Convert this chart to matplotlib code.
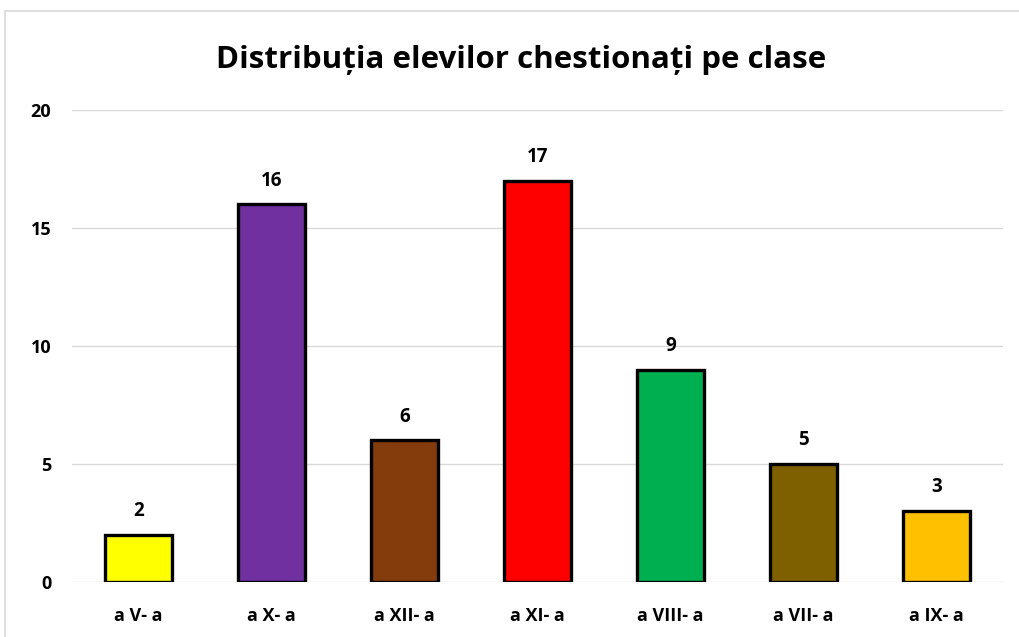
import matplotlib.pyplot as plt
from matplotlib.patches import Rectangle

categories = ["a V- a", "a X- a", "a XII- a", "a XI- a", "a VIII- a", "a VII- a", "a IX- a"]
values = [2, 16, 6, 17, 9, 5, 3]
colors = ["#FFFF00", "#7030A0", "#843C0C", "#FF0000", "#00B050", "#7F6000", "#FFC000"]
yticks = [0, 5, 10, 15, 20]
title = "Distribuția elevilor chestionați pe clase"

plt.rcParams['font.family'] = ['Open Sans', 'DejaVu Sans']

fig = plt.figure(figsize=(10.19, 6.37), dpi=100)
W, H = 1019, 637
fig.patches.append(Rectangle((5 / W, -0.1), 1.2, (H - 11) / H + 0.1, transform=fig.transFigure,
                             fill=False, edgecolor="#d9d9d9", linewidth=1.2))

ax = fig.add_axes([72 / W, (H - 582) / H, (1003 - 72) / W, (582 - 110) / H])
x = range(len(categories))
ax.bar(x, values, width=0.5, color=colors, edgecolor="black", linewidth=2.4, zorder=3)
for xi, v in zip(x, values):
    ax.annotate(str(v), (xi, v), xytext=(0, 10), textcoords="offset points",
                ha="center", va="bottom", fontsize=13.5, fontweight="bold")

ax.set_xlim(-0.5, len(categories) - 0.5)
ax.set_ylim(0, 20)
ax.set_yticks(yticks)
ax.set_yticklabels([str(t) for t in yticks], fontsize=13, fontweight="bold")
ax.set_xticks(list(x))
ax.set_xticklabels(categories, fontsize=13, fontweight="bold")
ax.tick_params(axis="both", length=0)
ax.tick_params(axis="y", pad=15)
ax.tick_params(axis="x", pad=18)
ax.grid(axis="y", color="#d9d9d9", linewidth=1, zorder=0)
for s in ax.spines.values():
    s.set_visible(False)

fig.text(521 / W, (H - 60) / H, title, ha="center", va="center", fontsize=22.5, fontweight="bold")

fig.savefig("out.png", dpi=100)
